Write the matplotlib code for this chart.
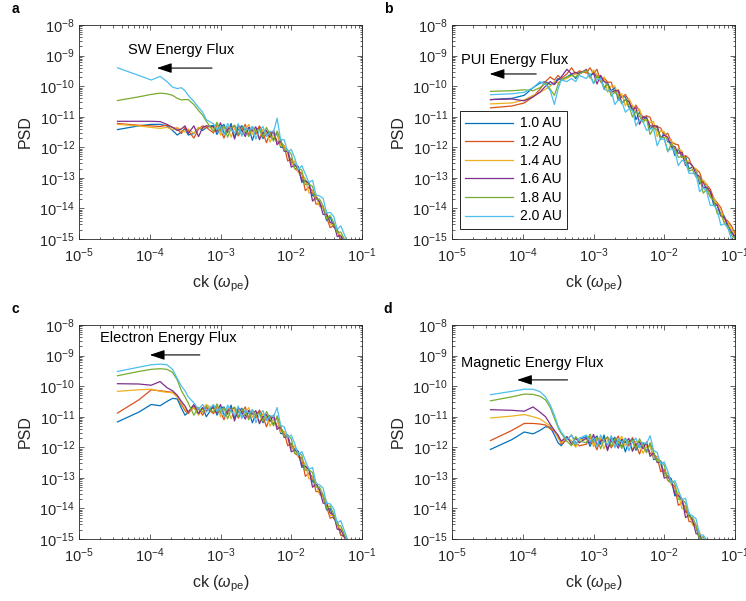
import numpy as np
import matplotlib
matplotlib.use('Agg')
import matplotlib.pyplot as plt
from matplotlib.ticker import LogLocator, NullFormatter

plt.rcParams['font.family'] = ['Liberation Sans', 'DejaVu Sans']
plt.rcParams['mathtext.fontset'] = 'custom'
plt.rcParams['mathtext.rm'] = 'Liberation Sans'
plt.rcParams['mathtext.it'] = 'Liberation Sans:italic'

# wavenumber grid, ck in units of omega_pe
k = [3.5e-5, 7.0e-5, 1.05e-4, 1.4e-4, 1.75e-4, 2.1e-4, 2.45e-4, 2.8e-4, 3.15e-4, 3.5e-4, 4.2e-4, 4.9e-4, 5.6e-4, 6.3e-4,
     7.94e-4, 8.91e-4, 1.00e-3, 1.12e-3, 1.26e-3, 1.41e-3, 1.58e-3, 1.78e-3, 2.00e-3, 2.24e-3, 2.51e-3, 2.82e-3,
     3.16e-3, 3.55e-3, 3.98e-3, 4.47e-3, 5.01e-3, 5.62e-3, 6.31e-3, 7.08e-3, 7.94e-3, 8.91e-3, 1.00e-2, 1.12e-2,
     1.26e-2, 1.41e-2, 1.58e-2, 1.78e-2, 2.00e-2, 2.24e-2, 2.51e-2, 2.82e-2, 3.16e-2, 3.55e-2, 3.98e-2, 4.47e-2,
     5.01e-2, 5.62e-2, 6.31e-2, 7.08e-2, 7.94e-2, 8.91e-2, 1.00e-1]

labels = ['1.0 AU', '1.2 AU', '1.4 AU', '1.6 AU', '1.8 AU', '2.0 AU']
colors = ['#0072BD', '#D95319', '#EDB120', '#7E2F8E', '#77AC30', '#4DBEEE']

# log10(PSD), panel a: SW energy flux
sw_10 = [-11.42, -11.30, -11.25, -11.25, -11.30, -11.45, -11.60, -11.50, -11.40, -11.60, -11.55, -11.35, -11.45, -11.35,
         -11.28, -11.58, -11.35, -11.25, -11.52, -11.22, -11.68, -11.43, -11.29, -11.55, -11.35, -11.77, -11.43, -11.35,
         -11.72, -11.55, -11.48, -11.75, -11.52, -12.00, -12.00, -12.10, -12.52, -12.55, -12.63, -13.15, -13.07, -13.20,
         -13.58, -13.56, -13.89, -13.97, -14.40, -14.28, -14.61, -14.69, -15.07, -15.05, -15.33, -15.41, -15.69, -15.77, -15.95]
sw_12 = [-11.22, -11.28, -11.30, -11.32, -11.28, -11.35, -11.40, -11.55, -11.35, -11.45, -11.70, -11.40, -11.30, -11.35,
         -11.53, -11.28, -11.45, -11.70, -11.32, -11.42, -11.28, -11.63, -11.44, -11.25, -11.60, -11.42, -11.58, -11.30,
         -11.52, -11.85, -11.53, -11.50, -11.82, -11.85, -11.95, -12.45, -12.37, -12.70, -12.78, -12.85, -13.42, -13.30,
         -13.43, -13.86, -13.84, -13.97, -14.30, -14.63, -14.56, -14.69, -15.07, -15.10, -15.28, -15.46, -15.64, -15.82, -16.00]
sw_14 = [-11.25, -11.30, -11.35, -11.38, -11.35, -11.42, -11.35, -11.45, -11.50, -11.40, -11.55, -11.35, -11.40, -11.30,
         -11.38, -11.23, -11.60, -11.35, -11.32, -11.67, -11.38, -11.33, -11.59, -11.45, -11.25, -11.57, -11.43, -11.70,
         -11.42, -11.50, -11.83, -11.60, -11.52, -11.95, -11.95, -12.20, -12.57, -12.45, -12.83, -12.90, -13.02, -13.50,
         -13.43, -13.56, -13.94, -13.97, -14.10, -14.53, -14.51, -14.79, -14.87, -15.05, -15.23, -15.41, -15.59, -15.77, -15.95]
sw_16 = [-11.15, -11.15, -11.15, -11.16, -11.25, -11.35, -11.45, -11.40, -11.30, -11.55, -11.30, -11.65, -11.35, -11.30,
         -11.33, -11.48, -11.20, -11.55, -11.42, -11.32, -11.73, -11.28, -11.44, -11.65, -11.35, -11.47, -11.33, -11.75,
         -11.52, -11.45, -11.68, -11.45, -11.92, -11.78, -12.13, -12.13, -12.65, -12.58, -12.71, -13.08, -13.10, -13.18,
         -13.76, -13.64, -13.77, -14.20, -14.18, -14.46, -14.49, -14.92, -14.90, -15.08, -15.26, -15.44, -15.62, -15.80, -15.98]
sw_18 = [-10.47, -10.35, -10.27, -10.23, -10.25, -10.30, -10.40, -10.45, -10.44, -10.44, -10.60, -10.80, -10.95, -11.15,
         -11.48, -11.18, -11.45, -11.30, -11.67, -11.37, -11.28, -11.58, -11.34, -11.40, -11.65, -11.32, -11.48, -11.40,
         -11.67, -11.35, -11.58, -11.80, -11.47, -11.75, -12.10, -12.10, -12.22, -12.70, -12.68, -12.75, -13.22, -13.20,
         -13.28, -13.71, -13.69, -13.92, -14.35, -14.23, -14.46, -14.79, -14.77, -15.00, -15.28, -15.36, -15.54, -15.72, -15.90]
sw_20 = [-9.40, -9.65, -9.80, -9.68, -9.85, -10.03, -10.08, -10.05, -10.15, -10.30, -10.50, -10.70, -10.85, -11.10,
         -11.23, -11.43, -11.30, -11.60, -11.22, -11.42, -11.53, -11.23, -11.64, -11.35, -11.45, -11.32, -11.73, -11.45,
         -11.32, -11.65, -11.48, -11.50, -11.05, -11.75, -11.75, -12.15, -12.07, -12.35, -12.73, -12.60, -12.87, -13.15,
         -13.08, -13.56, -13.59, -13.67, -14.15, -14.13, -14.26, -14.69, -14.57, -14.85, -15.13, -15.21, -15.39, -15.57, -15.75]

# panel b: PUI energy flux
pui_10 = [-10.44, -10.40, -10.30, -10.05, -9.90, -9.85, -9.95, -9.90, -9.75, -9.80, -9.70, -9.60, -9.75, -9.55,
          -9.50, -9.73, -9.52, -9.73, -9.65, -10.10, -9.90, -10.15, -10.05, -10.45, -10.35, -10.35, -10.70, -10.63,
          -11.10, -10.85, -11.10, -11.00, -11.40, -11.30, -11.35, -11.75, -11.50, -11.82, -11.85, -12.27, -12.05, -12.32,
          -12.30, -12.70, -12.65, -12.75, -13.20, -13.12, -13.40, -13.45, -13.90, -13.90, -14.20, -14.25, -14.65, -14.70, -15.00]
pui_12 = [-10.71, -10.65, -10.55, -10.35, -10.10, -9.85, -9.70, -9.80, -9.65, -9.75, -9.60, -9.40, -9.60, -9.50,
          -9.57, -9.40, -9.59, -9.45, -9.87, -9.72, -9.87, -9.87, -10.22, -10.12, -10.37, -10.27, -10.47, -10.80,
          -10.62, -10.82, -11.02, -10.97, -11.02, -11.37, -11.32, -11.37, -11.62, -11.54, -11.82, -11.89, -11.92, -12.34,
          -12.27, -12.37, -12.67, -12.72, -12.82, -13.19, -13.22, -13.37, -13.67, -13.82, -13.97, -14.32, -14.42, -14.57, -14.82]
pui_14 = [-10.58, -10.55, -10.45, -10.30, -10.20, -10.10, -10.00, -9.85, -9.90, -9.80, -9.75, -9.65, -9.60, -9.60,
          -9.50, -9.73, -9.47, -9.63, -9.80, -9.70, -10.20, -10.00, -10.00, -10.30, -10.25, -10.65, -10.40, -10.63,
          -10.85, -10.75, -11.15, -11.05, -11.20, -11.15, -11.65, -11.45, -11.50, -11.77, -11.75, -12.12, -12.05, -12.12,
          -12.45, -12.45, -12.65, -12.70, -13.10, -13.07, -13.20, -13.60, -13.65, -13.90, -14.05, -14.45, -14.45, -14.70, -14.85]
pui_16 = [-10.44, -10.42, -10.48, -10.35, -10.20, -10.00, -9.85, -9.95, -9.80, -9.70, -9.45, -9.60, -9.55, -9.60,
          -9.45, -9.68, -9.57, -9.93, -9.65, -9.85, -9.90, -10.20, -10.15, -10.15, -10.55, -10.45, -10.50, -10.78,
          -10.70, -11.25, -11.00, -11.05, -11.30, -11.30, -11.30, -11.70, -11.60, -11.67, -12.00, -11.97, -12.20, -12.17,
          -12.60, -12.50, -12.60, -12.90, -12.95, -13.32, -13.30, -13.45, -13.80, -13.90, -14.25, -14.30, -14.55, -14.80, -14.90]
pui_18 = [-10.17, -10.15, -10.12, -10.15, -10.05, -9.90, -10.10, -10.30, -9.95, -9.80, -9.70, -9.65, -9.70, -9.60,
          -9.48, -9.66, -9.90, -9.66, -9.83, -10.03, -9.93, -10.33, -10.18, -10.33, -10.58, -10.43, -10.63, -11.01,
          -10.83, -10.98, -11.18, -11.08, -11.58, -11.38, -11.43, -11.68, -11.68, -12.15, -11.88, -12.05, -12.33, -12.30,
          -12.38, -12.78, -12.73, -12.98, -12.98, -13.50, -13.38, -13.63, -13.73, -14.18, -14.18, -14.48, -14.58, -14.88, -14.98]
pui_20 = [-10.28, -10.25, -10.20, -10.05, -9.85, -9.95, -10.15, -10.60, -10.10, -9.80, -9.85, -9.75, -9.85, -9.65,
          -9.75, -9.58, -9.92, -9.78, -9.75, -10.10, -10.15, -10.15, -10.60, -10.45, -10.50, -10.85, -10.75, -10.78,
          -11.30, -11.10, -11.15, -11.45, -11.40, -11.40, -11.95, -11.70, -11.75, -12.12, -12.05, -12.12, -12.60, -12.42,
          -12.50, -12.85, -12.85, -12.90, -13.45, -13.32, -13.45, -13.90, -13.90, -14.05, -14.55, -14.50, -14.65, -15.00, -15.10]

# panel c: electron energy flux
el_10 = [-11.17, -10.85, -10.60, -10.64, -10.50, -10.40, -10.42, -10.72, -10.95, -10.85, -10.70, -10.90, -10.70, -11.00,
         -10.65, -10.95, -10.72, -10.68, -10.92, -10.62, -11.05, -10.85, -10.72, -10.98, -10.80, -11.20, -10.90, -10.83,
         -11.20, -11.03, -10.96, -11.25, -11.02, -11.55, -11.55, -11.60, -12.02, -12.05, -12.13, -12.66, -12.60, -12.74,
         -13.13, -13.15, -13.50, -13.60, -14.05, -14.00, -14.33, -14.45, -14.87, -14.89, -15.21, -15.33, -15.65, -15.77, -16.00]
el_12 = [-10.88, -10.45, -10.12, -10.15, -10.18, -10.20, -10.35, -10.60, -10.80, -10.90, -10.65, -10.75, -10.95, -10.70,
         -10.90, -10.68, -10.85, -11.10, -10.72, -10.82, -10.69, -11.05, -10.86, -10.68, -11.05, -10.87, -11.05, -10.78,
         -11.00, -11.33, -11.01, -11.00, -11.32, -11.40, -11.50, -11.95, -11.87, -12.20, -12.28, -12.36, -12.95, -12.84,
         -12.98, -13.45, -13.45, -13.60, -13.95, -14.32, -14.28, -14.45, -14.87, -14.94, -15.16, -15.38, -15.60, -15.82, -16.00]
el_14 = [-10.17, -10.12, -10.10, -10.17, -10.20, -10.22, -10.35, -10.55, -10.75, -10.85, -10.70, -10.95, -10.75, -10.60,
         -10.75, -10.63, -11.00, -10.75, -10.72, -11.07, -10.79, -10.75, -11.01, -10.88, -10.70, -11.02, -10.90, -11.18,
         -10.90, -10.98, -11.31, -11.10, -11.07, -11.50, -11.50, -11.70, -12.07, -11.95, -12.33, -12.41, -12.55, -13.04,
         -12.98, -13.15, -13.55, -13.60, -13.75, -14.22, -14.23, -14.55, -14.67, -14.89, -15.11, -15.33, -15.55, -15.77, -16.00]
el_16 = [-9.92, -9.93, -9.97, -9.85, -10.05, -10.15, -10.30, -10.50, -10.65, -10.85, -10.60, -10.90, -10.70, -10.80,
         -10.70, -10.88, -10.60, -10.95, -10.82, -10.72, -11.14, -10.70, -10.86, -11.08, -10.80, -10.92, -10.80, -11.23,
         -11.00, -10.93, -11.16, -10.95, -11.42, -11.33, -11.68, -11.63, -12.15, -12.08, -12.21, -12.59, -12.63, -12.72,
         -13.31, -13.18, -13.38, -13.83, -13.83, -14.15, -14.21, -14.68, -14.70, -14.92, -15.14, -15.36, -15.58, -15.80, -16.00]
el_18 = [-9.66, -9.52, -9.45, -9.43, -9.45, -9.55, -9.80, -10.15, -10.35, -10.55, -10.95, -10.70, -10.85, -10.65,
         -10.85, -10.58, -10.85, -10.70, -11.07, -10.77, -10.69, -11.00, -10.76, -10.83, -11.10, -10.77, -10.95, -10.88,
         -11.15, -10.83, -11.06, -11.30, -10.97, -11.30, -11.65, -11.60, -11.72, -12.20, -12.18, -12.26, -12.75, -12.74,
         -12.83, -13.30, -13.30, -13.55, -14.00, -13.92, -14.18, -14.55, -14.57, -14.84, -15.16, -15.28, -15.50, -15.72, -15.94]
el_20 = [-9.52, -9.38, -9.30, -9.28, -9.30, -9.45, -9.75, -10.00, -10.15, -10.35, -10.55, -10.75, -10.60, -10.85,
         -10.60, -10.83, -10.70, -11.00, -10.62, -10.82, -10.94, -10.65, -11.06, -10.78, -10.90, -10.77, -11.20, -10.93,
         -10.80, -11.13, -10.96, -11.00, -10.70, -11.28, -11.33, -11.68, -11.60, -11.88, -12.26, -12.14, -12.43, -12.72,
         -12.66, -13.18, -13.23, -13.33, -13.83, -13.85, -14.01, -14.48, -14.40, -14.72, -15.04, -15.16, -15.38, -15.60, -15.82]

# panel d: magnetic energy flux
mag_10 = [-12.07, -11.75, -11.50, -11.56, -11.45, -11.33, -11.34, -11.60, -11.85, -11.95, -11.70, -11.80, -11.95, -11.75,
          -11.65, -11.97, -11.73, -11.63, -11.90, -11.60, -12.06, -11.82, -11.67, -11.93, -11.74, -12.15, -11.81, -11.73,
          -12.10, -11.92, -11.85, -12.13, -11.90, -12.40, -12.37, -12.45, -12.88, -12.93, -13.03, -13.59, -13.55, -13.71,
          -14.12, -14.13, -14.49, -14.60, -15.06, -15.00, -15.33, -15.49, -15.80, -15.90, -16.10, -16.30, -16.50, -16.70, -16.90]
mag_12 = [-11.78, -11.45, -11.22, -11.22, -11.24, -11.27, -11.40, -11.48, -11.65, -11.90, -11.75, -11.60, -11.85, -11.95,
          -11.90, -11.67, -11.83, -12.08, -11.70, -11.80, -11.66, -12.02, -11.82, -11.63, -11.99, -11.80, -11.96, -11.68,
          -11.90, -12.22, -11.90, -11.88, -12.20, -12.25, -12.32, -12.80, -12.73, -13.08, -13.18, -13.29, -13.90, -13.81,
          -13.97, -14.43, -14.44, -14.60, -14.96, -15.32, -15.28, -15.50, -15.70, -15.90, -16.10, -16.30, -16.50, -16.70, -16.90]
mag_14 = [-11.04, -10.98, -10.93, -11.00, -11.07, -11.20, -11.30, -11.45, -11.70, -11.85, -11.65, -11.80, -12.00, -11.75,
          -11.75, -11.62, -11.98, -11.73, -11.70, -12.05, -11.76, -11.72, -11.97, -11.83, -11.64, -11.95, -11.81, -12.08,
          -11.80, -11.87, -12.20, -11.98, -11.95, -12.35, -12.32, -12.55, -12.93, -12.83, -13.23, -13.34, -13.50, -14.01,
          -13.97, -14.13, -14.54, -14.60, -14.76, -15.22, -15.23, -15.50, -15.70, -15.90, -16.10, -16.30, -16.50, -16.70, -16.90]
mag_16 = [-10.77, -10.79, -10.82, -10.68, -10.85, -11.00, -11.25, -11.45, -11.60, -11.80, -11.65, -11.90, -11.70, -11.85,
          -11.70, -11.87, -11.58, -11.93, -11.80, -11.70, -12.11, -11.67, -11.82, -12.03, -11.74, -11.85, -11.71, -12.13,
          -11.90, -11.82, -12.05, -11.83, -12.30, -12.18, -12.50, -12.48, -13.01, -12.96, -13.11, -13.52, -13.58, -13.69,
          -14.30, -14.21, -14.37, -14.83, -14.84, -15.15, -15.21, -15.55, -15.70, -15.90, -16.10, -16.30, -16.50, -16.70, -16.90]
mag_18 = [-10.48, -10.35, -10.26, -10.27, -10.33, -10.45, -10.70, -11.05, -11.35, -11.55, -11.80, -11.95, -11.65, -11.80,
          -11.85, -11.57, -11.83, -11.68, -12.05, -11.75, -11.66, -11.97, -11.72, -11.78, -12.04, -11.70, -11.86, -11.78,
          -12.05, -11.72, -11.95, -12.18, -11.85, -12.15, -12.47, -12.45, -12.58, -13.08, -13.08, -13.19, -13.70, -13.71,
          -13.82, -14.28, -14.29, -14.55, -15.01, -14.92, -15.18, -15.50, -15.60, -15.80, -16.00, -16.20, -16.40, -16.60, -16.80]
mag_20 = [-10.28, -10.17, -10.10, -10.10, -10.18, -10.35, -10.62, -10.95, -11.30, -11.50, -11.75, -11.60, -11.90, -11.70,
          -11.60, -11.82, -11.68, -11.98, -11.60, -11.80, -11.91, -11.62, -12.02, -11.73, -11.84, -11.70, -12.11, -11.83,
          -11.70, -12.02, -11.85, -11.88, -11.62, -12.10, -12.17, -12.55, -12.48, -12.78, -13.18, -13.09, -13.40, -13.71,
          -13.67, -14.18, -14.24, -14.34, -14.86, -14.87, -15.03, -15.49, -15.50, -15.70, -15.90, -16.10, -16.30, -16.50, -16.70]

panels = [
    ('a', [sw_10, sw_12, sw_14, sw_16, sw_18, sw_20], 'SW Energy Flux', (5.0e-5, 1.55e-9), (7.6e-4, 1.26e-4, 3.9e-10)),
    ('b', [pui_10, pui_12, pui_14, pui_16, pui_18, pui_20], 'PUI Energy Flux', (1.32e-5, 7.2e-10), (1.55e-4, 3.4e-5, 2.5e-10)),
    ('c', [el_10, el_12, el_14, el_16, el_18, el_20], 'Electron Energy Flux', (2.0e-5, 3.7e-9), (5.1e-4, 1.0e-4, 1.05e-9)),
    ('d', [mag_10, mag_12, mag_14, mag_16, mag_18, mag_20], 'Magnetic Energy Flux', (1.32e-5, 5.6e-10), (4.3e-4, 8.3e-5, 1.6e-10)),
]

W, H = 746, 601
fig = plt.figure(figsize=(W / 100, H / 100), dpi=100)
# axes boxes in pixels: left, top
boxes = [(79, 25), (452, 25), (79, 325), (452, 325)]
letter_pos = [(15, 9), (388, 9), (15, 309), (388, 309)]
aw, ah = 283, 214
axcol = '#262626'

for (tag, curves, note, tpos, arr), (bx, by), (lx, ly) in zip(panels, boxes, letter_pos):
    ax = fig.add_axes([bx / W, 1 - (by + ah) / H, aw / W, ah / H])
    for c, lab, col in zip(curves, labels, colors):
        ax.loglog(k, 10.0 ** np.array(c), color=col, lw=0.9, label=lab)
    ax.set_xlim(1e-5, 1e-1)
    ax.set_ylim(1e-15, 1e-8)
    ax.set_xticks([1e-5, 1e-4, 1e-3, 1e-2, 1e-1])
    ax.set_yticks([10.0 ** e for e in range(-15, -7)])
    ax.xaxis.set_minor_locator(LogLocator(base=10, subs=np.arange(2, 10), numticks=30))
    ax.yaxis.set_minor_locator(LogLocator(base=10, subs=np.arange(2, 10), numticks=30))
    ax.xaxis.set_minor_formatter(NullFormatter())
    ax.yaxis.set_minor_formatter(NullFormatter())
    ax.tick_params(which='both', direction='in', top=True, right=True, width=0.5, color=axcol,
                   labelcolor=axcol, labelsize=10.5)
    ax.tick_params(which='major', length=3.5)
    ax.tick_params(which='minor', length=1.8)
    ax.tick_params(axis='x', pad=5)
    ax.tick_params(axis='y', pad=3)
    for s in ax.spines.values():
        s.set_linewidth(0.6)
        s.set_color(axcol)
    ax.set_ylabel('PSD', fontsize=11.5, color=axcol)
    ax.yaxis.set_label_coords(-0.165, 0.5)
    ax.set_xlabel(r'ck ($\omega_{\rm pe}$)', fontsize=11.5, color=axcol)
    ax.xaxis.set_label_coords(0.5, -0.16)

    ax.text(tpos[0], tpos[1], note, fontsize=10.5, ha='left', va='center', color='k')
    ax.annotate('', xy=(arr[1], arr[2]), xytext=(arr[0], arr[2]),
                arrowprops=dict(arrowstyle='-|>,head_length=0.9,head_width=0.3', lw=0.8, color='k',
                                shrinkA=0, shrinkB=0, mutation_scale=10))
    fig.text(lx / W, 1 - ly / H, tag, fontsize=10, fontweight='bold', ha='center', va='center')

    if tag == 'b':
        leg = ax.legend(loc='lower left', bbox_to_anchor=(0.028, 0.047), borderaxespad=0, fontsize=10,
                        handlelength=3.4, fancybox=False, edgecolor='k', framealpha=1, borderpad=0.4,
                        labelspacing=0.33, handletextpad=0.5)
        leg.get_frame().set_linewidth(0.6)

fig.savefig('out.png', dpi=100)
